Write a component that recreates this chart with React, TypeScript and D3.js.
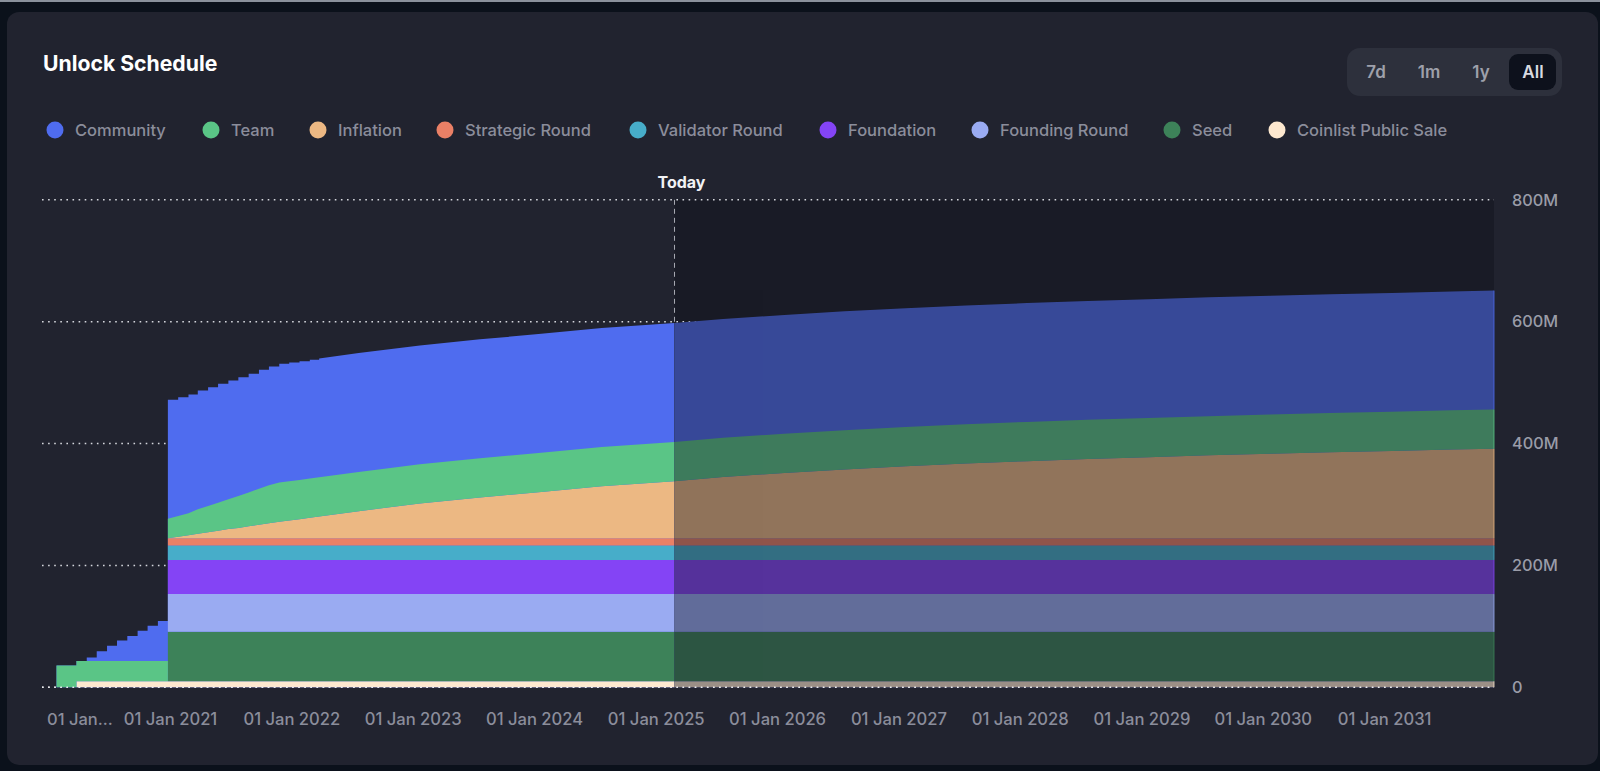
import * as d3 from "d3";

const stepDates = [
  "2020-01-24", "2020-02-24", "2020-03-24", "2020-04-24", "2020-05-24", "2020-06-24",
  "2020-07-24", "2020-08-24", "2020-09-24", "2020-10-24", "2020-11-24", "2020-12-24",
  "2021-01-24", "2021-02-24", "2021-03-24", "2021-04-24", "2021-05-24", "2021-06-24",
  "2021-07-24", "2021-08-24", "2021-09-24", "2021-10-24", "2021-11-24", "2021-12-24",
  "2022-01-24", "2022-02-24", "2022-03-24",
];
const smoothDates = [
  "2022-07-21", "2023-01-21", "2023-07-21", "2024-01-21", "2024-07-21", "2025-02-25",
  "2025-07-21", "2026-01-21", "2026-07-21", "2027-01-21", "2027-07-21", "2028-01-21",
  "2028-07-21", "2029-01-21", "2029-07-21", "2030-01-21", "2030-07-21", "2031-01-21",
  "2031-07-21", "2031-11-26",
];

// millions of tokens, one value per date (steps first, then the smooth part)
const coinlist = [
  0, 0, 10, 10, 10, 10, 10, 10, 10, 10, 10, 10, 10, 10, 10, 10, 10, 10, 10, 10, 10, 10, 10, 10, 10, 10, 10,
  10, 10, 10, 10, 10, 10, 10, 10, 10, 10, 10, 10, 10, 10, 10, 10, 10, 10, 10, 10,
];
const seed = [
  0, 0, 0, 0, 0, 0, 0, 0, 0, 0, 0, 81, 81, 81, 81, 81, 81, 81, 81, 81, 81, 81, 81, 81, 81, 81, 81,
  81, 81, 81, 81, 81, 81, 81, 81, 81, 81, 81, 81, 81, 81, 81, 81, 81, 81, 81, 81,
];
const foundingRound = [
  0, 0, 0, 0, 0, 0, 0, 0, 0, 0, 0, 62, 62, 62, 62, 62, 62, 62, 62, 62, 62, 62, 62, 62, 62, 62, 62,
  62, 62, 62, 62, 62, 62, 62, 62, 62, 62, 62, 62, 62, 62, 62, 62, 62, 62, 62, 62,
];
const foundation = [
  0, 0, 0, 0, 0, 0, 0, 0, 0, 0, 0, 56, 56, 56, 56, 56, 56, 56, 56, 56, 56, 56, 56, 56, 56, 56, 56,
  56, 56, 56, 56, 56, 56, 56, 56, 56, 56, 56, 56, 56, 56, 56, 56, 56, 56, 56, 56,
];
const validatorRound = [
  0, 0, 0, 0, 0, 0, 0, 0, 0, 0, 0, 23.6, 23.6, 23.6, 23.6, 23.6, 23.6, 23.6, 23.6, 23.6, 23.6, 23.6, 23.6, 23.6, 23.6, 23.6, 23.6,
  23.6, 23.6, 23.6, 23.6, 23.6, 23.6, 23.6, 23.6, 23.6, 23.6, 23.6, 23.6, 23.6, 23.6, 23.6, 23.6, 23.6, 23.6, 23.6, 23.6,
];
const strategicRound = [
  0, 0, 0, 0, 0, 0, 0, 0, 0, 0, 0, 12, 12, 12, 12, 12, 12, 12, 12, 12, 12, 12, 12, 12, 12, 12, 12,
  12, 12, 12, 12, 12, 12, 12, 12, 12, 12, 12, 12, 12, 12, 12, 12, 12, 12, 12, 12,
];
const inflation = [
  0, 0, 0, 0, 0, 0, 0, 0, 0, 0, 0, 0, 2.5, 5, 7.5, 10, 12.5, 15, 17, 19.5, 22, 24.5, 27, 29, 31, 33.5, 35.6,
  44.5, 57, 67, 76, 85.5, 93.7, 100.5, 107, 113, 118, 122.5, 126.5, 130, 133, 136, 138.5, 141, 143, 145.5, 147,
];
const team = [
  35.6, 35.6, 33, 33, 33, 33, 33, 33, 33, 33, 33, 32.2, 33.9, 35.9, 39.9, 42.9, 45.9, 48.9, 52.4, 55.4, 59.4, 62.4, 64.4, 64.4, 64.4, 64.4, 64.4,
  64.4, 64.4, 64.4, 64.4, 64.4, 64.4, 64.4, 64.4, 64.4, 64.4, 64.4, 64.4, 64.4, 64.4, 64.4, 64.4, 64.4, 64.4, 64.4, 64.4,
];
const community = [
  0, 0, 0, 6, 16, 25, 34, 41, 50, 58, 66, 195, 195, 195, 195, 195, 195, 195, 195, 195, 195, 195, 195, 195, 195, 195, 195,
  195, 195, 195, 195, 195, 195, 195, 195, 195, 195, 195, 195, 195, 195, 195, 195, 195, 195, 195, 195,
];

// stacking order, bottom first
const seriesKeys = [
  "Coinlist Public Sale", "Seed", "Founding Round", "Foundation", "Validator Round",
  "Strategic Round", "Inflation", "Team", "Community",
];
const seriesValues = [coinlist, seed, foundingRound, foundation, validatorRound, strategicRound, inflation, team, community];
const seriesColors = ["#fde8cf", "#3d8259", "#9aabf2", "#8444f5", "#47adc9", "#ea8066", "#ecb883", "#5ac586", "#4f6cef"];

const legendOrder = [
  "Community", "Team", "Inflation", "Strategic Round", "Validator Round",
  "Foundation", "Founding Round", "Seed", "Coinlist Public Sale",
];
const legendDotX = [55, 211, 318, 445, 638, 828, 980, 1172, 1277];

const yTicks = [0, 200, 400, 600, 800];
const xTickDates = ["2021", "2022", "2023", "2024", "2025", "2026", "2027", "2028", "2029", "2030", "2031"];
const rangeButtons = ["7d", "1m", "1y", "All"];
const rangeButtonX = [1376, 1429, 1481, 1533];
const todayDate = "2025-02-25";

const allDates = [...stepDates, ...smoothDates].map(d => new Date(d));
const rows = allDates.map((date, i) => {
  const row: any = { date };
  seriesKeys.forEach((k, s) => { row[k] = seriesValues[s][i]; });
  return row;
});

// repeat each row at the next date up to stepEnd, so the area comes out as real steps
function withSteps(stepEnd: number) {
  const out: any[] = [];
  rows.forEach((row, i) => {
    out.push(row);
    if (i < stepEnd) out.push({ ...row, date: rows[i + 1].date });
  });
  return out;
}

// Only the top edge steps all the way to 2022, team and inflation edges run smooth after the 2021 jump
const DEC_2020 = stepDates.indexOf("2020-12-24");
const topStack = d3.stack().keys(seriesKeys)(withSteps(stepDates.length - 1));
const lowerStack = d3.stack().keys(seriesKeys)(withSteps(DEC_2020));

const PLOT_LEFT = 42;
const PLOT_RIGHT = 1494;
const FONT = "Inter, 'Noto Sans', sans-serif";

const x = d3.scaleTime([allDates[0], allDates[allDates.length - 1]], [56.5, PLOT_RIGHT]);
const y = d3.scaleLinear([0, 800], [687.3, 199.8]);

const areaGen = d3.area<any>()
  .x(d => x(d.data.date))
  .y0(d => y(d[0]))
  .y1(d => y(d[1]));
const topGen = d3.area<any>()
  .x(d => x(d.data.date))
  .y0(y(0))
  .y1(d => y(d[1]));

function App() {
  const todayX = x(new Date(todayDate));
  const last = lowerStack.map(s => s[s.length - 1]);
  const todayTop = y(d3.sum(seriesValues, v => v[stepDates.length + 5]));
  const topBand = topStack[topStack.length - 1];

  // community goes first down to the baseline, everything else is painted over it
  const bands = (
    <>
      <path d={topGen(topBand) ?? ""} fill={seriesColors[8]} />
      {lowerStack.slice(0, 8).map((s, i) => (
        <path key={seriesKeys[i]} d={areaGen(s) ?? ""} fill={seriesColors[i]} />
      ))}
    </>
  );

  return (
    <svg width={1600} height={771} style={{ position: "fixed", left: 0, top: 0, display: "block" }} fontFamily={FONT}>
      <defs>
        <clipPath id="before-today">
          <rect x={0} y={0} width={todayX} height={771} />
        </clipPath>
        <clipPath id="after-today">
          <rect x={todayX} y={0} width={1600 - todayX} height={771} />
        </clipPath>
      </defs>

      <rect width={1600} height={771} fill="#0b111b" />
      <rect width={1600} height={2} fill="#8a919c" />
      <rect x={7} y={12} width={1591} height={753} rx={12} fill="#21232f" />

      <text x={43} y={71} fontSize={21.2} fontWeight={700} fill="#ffffff">Unlock Schedule</text>

      {/* range switch */}
      <rect x={1347} y={48} width={215} height={48} rx={13} fill="#2d303c" />
      <rect x={1509} y={54} width={47} height={36} rx={9} fill="#0d111c" />
      {rangeButtons.map((label, i) => (
        <text key={label} x={rangeButtonX[i]} y={72} dy="0.35em" textAnchor="middle" fontSize={17} fontWeight={600}
          fill={label === "All" ? "#d8dae0" : "#9ea0ab"}>
          {label}
        </text>
      ))}

      {/* legend */}
      {legendOrder.map((label, i) => (
        <g key={label}>
          <circle cx={legendDotX[i]} cy={130} r={8.5} fill={seriesColors[seriesKeys.indexOf(label)]} />
          <text x={legendDotX[i] + 20} y={130.5} dy="0.35em" fontSize={16.5} fontWeight={500} fill="#8b8d9b">{label}</text>
        </g>
      ))}

      {/* dark part after today */}
      <rect x={todayX} y={y(800)} width={PLOT_RIGHT - todayX} height={y(0) - y(800)} fill="#191b26" />

      {/* grid */}
      {yTicks.map(t => (
        <line key={t} x1={PLOT_LEFT} x2={PLOT_RIGHT} y1={y(t)} y2={y(t)} stroke="#d5d7dd" strokeWidth={1.5} strokeDasharray="1.6,4.5" />
      ))}
      <line x1={todayX} x2={todayX} y1={y(800)} y2={todayTop} stroke="#a9abb4" strokeWidth={1} strokeDasharray="5,4" />
      <text x={todayX + 7} y={182} dy="0.35em" textAnchor="middle" fontSize={16} fontWeight={700} fill="#f2f2f5">Today</text>

      {/* stacked areas; the dim part sits on a solid dark copy so the grid stays hidden */}
      <g clipPath="url(#before-today)">{bands}</g>
      <g clipPath="url(#after-today)">
        <path d={topGen(topBand) ?? ""} fill="#191b26" />
        <g opacity={0.57}>{bands}</g>
      </g>

      {/* light edge on the far right */}
      {last.map((d, i) => (
        <line key={seriesKeys[i]} x1={PLOT_RIGHT} x2={PLOT_RIGHT} y1={y(d[0])} y2={y(d[1])} stroke={seriesColors[i]} strokeOpacity={0.8} />
      ))}

      <line x1={PLOT_LEFT} x2={PLOT_RIGHT} y1={y(0)} y2={y(0)} stroke="#e8e9ed" strokeWidth={1.5} strokeDasharray="1.6,4.5" />

      {/* axes */}
      {yTicks.map(t => (
        <text key={t} x={1512} y={y(t)} dy="0.35em" fontSize={16.3} fontWeight={500} fill="#9a9ca8">
          {t === 0 ? "0" : `${t}M`}
        </text>
      ))}
      <text x={47} y={719} dy="0.35em" fontSize={16.5} fontWeight={500} fill="#8b8d9b">01 Jan...</text>
      {xTickDates.map(year => (
        <text key={year} x={x(new Date(`${year}-01-01`))} y={719} dy="0.35em" textAnchor="middle" fontSize={16.6} fontWeight={500} fill="#8b8d9b">
          {`01 Jan ${year}`}
        </text>
      ))}
    </svg>
  );
}

export default App;
